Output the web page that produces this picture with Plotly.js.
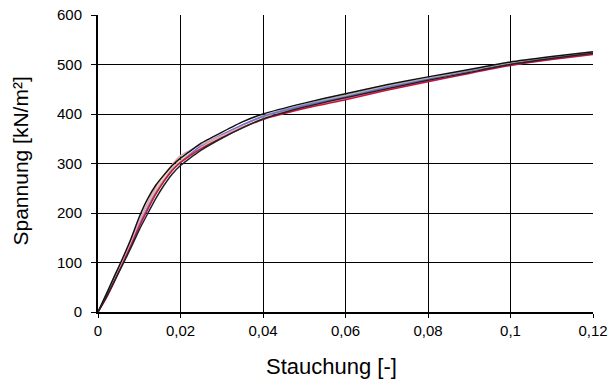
<!DOCTYPE html>
<html><head><meta charset="utf-8">
<script src="https://cdn.plot.ly/plotly-3.0.1.min.js"></script>
<style>html,body{margin:0;padding:0;background:#fff}#c{width:612px;height:382px}</style>
</head><body><div id="c"></div>
<script>
// Strain values (Stauchung [-])
const strain = [0, 0.002, 0.004, 0.006, 0.008, 0.010, 0.012, 0.014, 0.016, 0.018, 0.020, 0.022, 0.025, 0.030, 0.035, 0.040, 0.050, 0.060, 0.070, 0.080, 0.090, 0.100, 0.110, 0.120];
// Stress series (Spannung [kN/m²]) for individual tests
const blackA  = [0, 36, 73, 109, 148, 192, 228, 256, 277, 296, 311, 323, 341, 363, 384, 400, 422, 441, 459, 475, 490, 505, 516, 526];
const blackB  = [0, 30, 63, 96, 130, 166, 198, 229, 256, 279, 296, 309, 327, 351, 372, 390, 414, 433, 451, 468, 484, 500, 512, 523];
const greyS   = [0, 33, 68, 104, 140, 180, 214, 244, 268, 288, 303, 316, 334, 357, 378, 396, 419, 438, 456, 472, 488, 503, 514, 524];
const redS    = [0, 28, 62, 98, 134, 172, 206, 238, 264, 286, 302, 314, 330, 352, 372, 389, 411, 429, 448, 465, 482, 498, 510, 520];
const pinkS   = [0, 30, 66, 103, 142, 184, 220, 252, 276, 298, 316, 325, 338, 356, 374, 390, 412, 431, 450, 467, 484, 499, 511, 521];
const blueS   = [0, 32, 67, 102, 138, 176, 210, 240, 265, 287, 302, 316, 336, 358, 378, 395, 417, 435, 454, 470, 486, 501, 513, 523];
const yellowS = [0, 33, 69, 105, 141, 180, 215, 246, 270, 291, 306, 318, 335, 356, 377, 394, 416, 436, 455, 471, 487, 502, 514, 524];

const xTitle = 'Stauchung [-]';
const yTitle = 'Spannung [kN/m²]';

const series = [
  {name: 'Versuch 1', y: greyS,   color: '#a8a8a8'},
  {name: 'Versuch 2', y: yellowS, color: '#dcc888'},
  {name: 'Versuch 3', y: blueS,   color: '#7070d8'},
  {name: 'Versuch 4', y: pinkS,   color: '#e4a8b8'},
  {name: 'Versuch 5', y: redS,    color: '#d01040'},
  {name: 'Versuch 6', y: blackA,  color: '#111111'},
  {name: 'Versuch 7', y: blackB,  color: '#222222'}
];

const traces = series.map(s => ({
  x: strain, y: s.y, type: 'scatter', mode: 'lines', name: s.name,
  line: {color: s.color, width: 1.5, shape: 'spline', smoothing: 0.5}
}));

const fontFam = '"Liberation Sans", Arial, sans-serif';
const layout = {
  width: 612, height: 382,
  margin: {l: 98, r: 19, t: 15, b: 70},
  paper_bgcolor: '#fff', plot_bgcolor: '#fff',
  showlegend: false,
  separators: ',.',
  font: {family: fontFam, color: '#000'},
  xaxis: {
    range: [0, 0.12], dtick: 0.02, tick0: 0,
    showgrid: true, gridcolor: '#000', gridwidth: 1,
    showline: true, linecolor: '#000', linewidth: 2,
    ticks: 'outside', ticklen: 4, tickwidth: 1, tickcolor: '#000',
    zeroline: false,
    tickfont: {size: 15, family: fontFam}
  },
  yaxis: {
    range: [0, 600], dtick: 100, tick0: 0,
    showgrid: true, gridcolor: '#000', gridwidth: 1,
    showline: true, linecolor: '#000', linewidth: 2,
    ticks: 'outside', ticklen: 5, tickwidth: 1, tickcolor: '#000',
    zeroline: false,
    ticklabelstandoff: 6,
    tickfont: {size: 15, family: fontFam}
  },
  annotations: [
    {text: xTitle, xref: 'paper', yref: 'paper', x: 0.4727, y: -0.182,
     xanchor: 'center', yanchor: 'middle', showarrow: false,
     font: {size: 22, family: fontFam, color: '#000'}},
    {text: yTitle, xref: 'paper', yref: 'paper', x: -0.1556, y: 0.51,
     xanchor: 'center', yanchor: 'middle', showarrow: false, textangle: -90,
     font: {size: 21, family: fontFam, color: '#000'}}
  ]
};

Plotly.newPlot('c', traces, layout, {displayModeBar: false, staticPlot: true});
</script>
</body></html>
